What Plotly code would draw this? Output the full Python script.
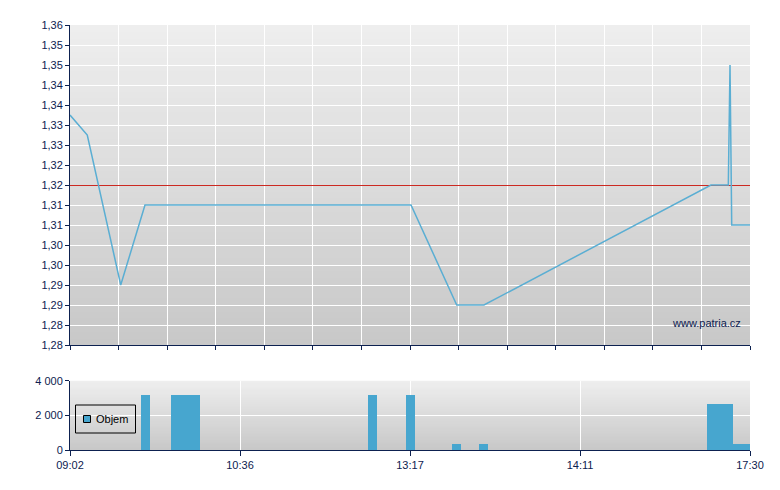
import plotly.graph_objects as go

# ---- data (x is a position index 0..100 along the session axis) ----
price_x = [0, 2.54, 7.46, 11.03, 50.15, 56.87, 60.88, 94.26, 96.81, 97.06, 97.25, 97.31, 100]
price_y = [1.3375, 1.3325, 1.295, 1.315, 1.315, 1.29, 1.29, 1.32, 1.32, 1.35, 1.32, 1.31, 1.31]
prev_close = 1.32

vol_x = [11.1, 16.99, 44.44, 50.07, 56.84, 60.81, 95.57, 98.73]
vol_w = [1.32, 4.26, 1.32, 1.32, 1.32, 1.32, 3.78, 2.54]
vol_y = [3170, 3170, 3170, 3170, 350, 350, 2650, 350]

price_tickvals = [1.36, 1.355, 1.35, 1.345, 1.34, 1.335, 1.33, 1.325, 1.32,
                  1.315, 1.31, 1.305, 1.30, 1.295, 1.29, 1.285, 1.28]
price_ticktext = ["1,36", "1,35", "1,35", "1,34", "1,34", "1,33", "1,33", "1,32", "1,32",
                  "1,31", "1,31", "1,30", "1,30", "1,29", "1,29", "1,28", "1,28"]
vol_tickvals = [0, 2000, 4000]
vol_ticktext = ["0", "2 000", "4 000"]
time_tickvals = [0, 25, 50, 75, 100]
time_ticktext = ["09:02", "10:36", "13:17", "14:11", "17:30"]
legend_label = "Objem"

NAVY = "#0d2150"
LINE_BLUE = "#5aaed3"
BAR_BLUE = "#47a6cf"
RED = "#cc2a22"
FONT = "Liberation Sans, Arial, sans-serif"

# page body adds an 8px offset; figure sized so that the plot lands at window px
OFF = 8
W, H = 780 - OFF, 490 - OFF
ML, MT = 70 - OFF, 25 - OFF
MR = W - (750 - OFF)
MB = H - (450 - OFF)
PW, PH = W - ML - MR, H - MT - MB


def px_x(p):
    return (p - OFF - ML) / PW


def px_y(p):
    return (H - MB - (p - OFF)) / PH


fig = go.Figure()

fig.add_trace(go.Scatter(x=price_x, y=price_y, mode="lines",
                         line=dict(color=LINE_BLUE, width=1.5),
                         showlegend=False, xaxis="x", yaxis="y"))
fig.add_trace(go.Bar(x=vol_x, y=vol_y, width=vol_w, name=legend_label,
                     marker=dict(color=BAR_BLUE, line=dict(width=0)),
                     showlegend=False, xaxis="x2", yaxis="y2"))

# gradient background (overlapping strips, no seams)
shapes = []
N = 48
top_c = (238, 238, 238)
bot_c = (200, 200, 200)
for xr, yr in (("x domain", "y domain"), ("x2 domain", "y2 domain")):
    for i in range(N):
        t = i / (N - 1)
        r, g, b = (round(a + (c - a) * t) for a, c in zip(top_c, bot_c))
        shapes.append(dict(type="rect", xref=xr, yref=yr, x0=0, x1=1,
                           y0=0, y1=1 - i / N,
                           fillcolor=f"rgb({r},{g},{b})", line=dict(width=0), layer="below"))

# previous close reference line (anchored at the value, half-pixel offset for a crisp line)
shapes.append(dict(type="line", xref="x", yref="y", x0=min(price_x), x1=max(price_x),
                   ysizemode="pixel", yanchor=prev_close, y0=-0.5, y1=-0.5,
                   line=dict(color=RED, width=1), layer="between"))

# legend box drawn by hand (compact, like the original)
shapes.append(dict(type="rect", xref="paper", yref="paper",
                   x0=px_x(75.5), x1=px_x(135.5), y0=px_y(433), y1=px_y(405),
                   line=dict(color="black", width=1), fillcolor="rgba(0,0,0,0)", layer="above"))
shapes.append(dict(type="rect", xref="paper", yref="paper",
                   x0=px_x(83.5), x1=px_x(90.5), y0=px_y(422.5), y1=px_y(415.5),
                   line=dict(color="black", width=1), fillcolor=BAR_BLUE, layer="above"))

axis_common = dict(showline=True, linecolor=NAVY, linewidth=1, ticks="outside",
                   tickcolor=NAVY, ticklen=4, gridcolor="white", gridwidth=1,
                   zeroline=False, automargin=False,
                   tickfont=dict(family=FONT, size=11, color=NAVY))

top_dom = [px_y(345), 1]
bot_dom = [0, px_y(380.7)]

fig.update_layout(
    width=W, height=H,
    margin=dict(l=ML, r=MR, t=MT, b=MB, autoexpand=False),
    paper_bgcolor="white", plot_bgcolor="rgba(0,0,0,0)",
    shapes=shapes,
    xaxis=dict(axis_common, domain=[0, 1], range=[0, 100], tick0=0, dtick=100 / 14,
               showticklabels=False, anchor="y"),
    yaxis=dict(axis_common, domain=top_dom, range=[1.28, 1.36],
               tickvals=price_tickvals, ticktext=price_ticktext, anchor="x"),
    xaxis2=dict(axis_common, domain=[0, 1], range=[0, 100], tickvals=time_tickvals,
                ticktext=time_ticktext, ticklen=5, anchor="y2"),
    yaxis2=dict(axis_common, domain=bot_dom, range=[0, 4000],
                tickvals=vol_tickvals, ticktext=vol_ticktext, anchor="x2"),
    annotations=[
        dict(text="www.patria.cz", xref="paper", yref="paper",
             x=px_x(743), y=px_y(323), xanchor="right", yanchor="middle",
             showarrow=False, font=dict(family=FONT, size=11, color=NAVY)),
        dict(text=legend_label, xref="paper", yref="paper",
             x=px_x(94), y=px_y(419), xanchor="left", yanchor="middle",
             showarrow=False, font=dict(family=FONT, size=11, color="black")),
    ],
    bargap=0, showlegend=False,
)

fig.write_html("out.html")
